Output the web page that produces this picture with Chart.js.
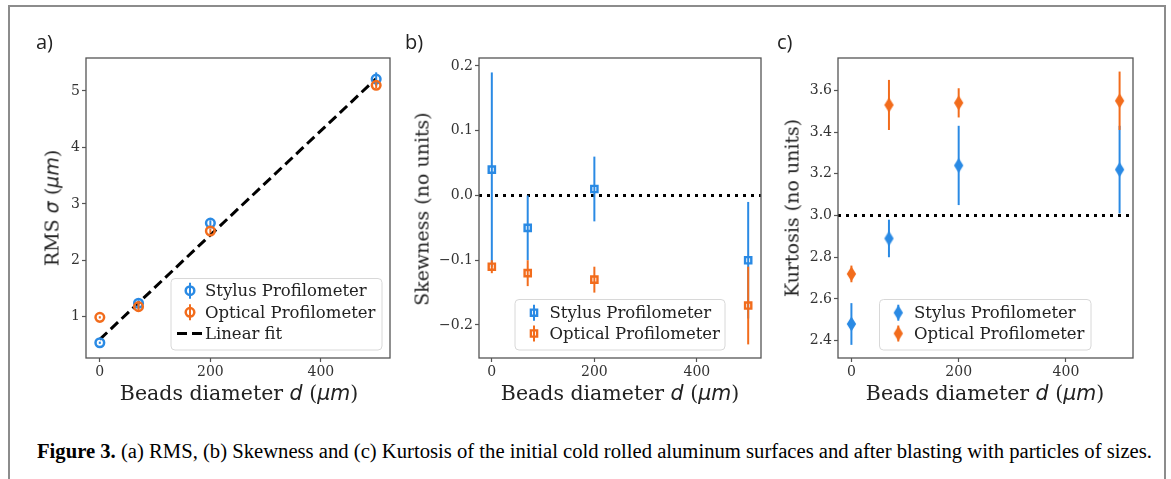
<!DOCTYPE html>
<html><head><meta charset="utf-8">
<script src="https://cdn.jsdelivr.net/npm/chart.js@4/dist/chart.umd.min.js"></script>
<style>
html,body{margin:0;padding:0;background:#fff;}
body{width:1171px;height:479px;overflow:hidden;position:relative;}
#frame{position:absolute;left:8px;top:5px;width:1158px;height:520px;border:2px solid #8c8c8c;box-sizing:border-box;}
canvas{position:absolute;top:0;}
.lab{position:absolute;font-family:'Open Sans',sans-serif;font-size:20px;color:#222;line-height:20px;}
.xt,.yt{position:absolute;font-family:'DejaVu Serif',serif;font-size:19px;color:#222;white-space:nowrap;line-height:1;}
.xt{font-size:20.5px;transform:translate(-50%,-50%);}
.yt{transform:translate(-50%,-50%) rotate(-90deg);}
.m{font-family:'DejaVu Sans',sans-serif;font-style:italic;}
#cap{position:absolute;left:37px;top:440px;font-family:'Liberation Serif',serif;font-size:20px;color:#000;white-space:nowrap;transform-origin:0 50%;line-height:22px;}
</style></head>
<body>
<div id="frame"></div>
<canvas id="ca" width="400" height="420" style="left:0px"></canvas>
<canvas id="cb" width="370" height="420" style="left:400px"></canvas>
<canvas id="cc" width="373" height="420" style="left:770px"></canvas>
<div class="lab" style="left:36px;top:32px">a)</div>
<div class="lab" style="left:405px;top:32px">b)</div>
<div class="lab" style="left:777px;top:32px">c)</div>
<div class="xt" style="left:239px;top:393px">Beads diameter <span class="m">d</span> (<span class="m">μm</span>)</div>
<div class="xt" style="left:620px;top:393px">Beads diameter <span class="m">d</span> (<span class="m">μm</span>)</div>
<div class="xt" style="left:985px;top:393px">Beads diameter <span class="m">d</span> (<span class="m">μm</span>)</div>
<div class="yt" style="left:52px;top:208px">RMS <span class="m">σ</span> (<span class="m">μm</span>)</div>
<div class="yt" style="left:422px;top:209px">Skewness (no units)</div>
<div class="yt" style="left:792px;top:208px">Kurtosis (no units)</div>
<div id="cap"><b>Figure 3.</b> (a) RMS, (b) Skewness and (c) Kurtosis of the initial cold rolled aluminum surfaces and after blasting with particles of sizes.</div>
<script>
// ---------------- data ----------------
const beadsDiameter = [0, 70, 200, 500];
const xTicks = [0, 200, 400];
const xTickLabels = ['0', '200', '400'];

const rmsStylus = [0.54, 1.24, 2.66, 5.21];
const rmsStylusErr = [0.02, 0.05, 0.05, 0.12];
const rmsOptical = [0.99, 1.18, 2.52, 5.10];
const rmsOpticalErr = [0.02, 0.06, 0.04, 0.05];
const fitX = [0, 500];
const fitY = [0.60, 5.22];
const rmsTicks = [1, 2, 3, 4, 5];
const rmsTickLabels = ['1', '2', '3', '4', '5'];

const skewStylus = [0.04, -0.05, 0.01, -0.10];
const skewStylusErr = [0.15, 0.05, 0.05, 0.09];
const skewOptical = [-0.11, -0.12, -0.13, -0.17];
const skewOpticalErr = [0.01, 0.02, 0.02, 0.06];
const skewRef = 0.0;
const skewTicks = [-0.2, -0.1, 0.0, 0.1, 0.2];
const skewTickLabels = ['\u22120.2', '\u22120.1', '0.0', '0.1', '0.2'];

const kurtStylus = [2.48, 2.89, 3.24, 3.22];
const kurtStylusErr = [0.10, 0.09, 0.19, 0.21];
const kurtOptical = [2.72, 3.53, 3.54, 3.55];
const kurtOpticalErr = [0.04, 0.12, 0.07, 0.14];
const kurtRef = 3.0;
const kurtTicks = [2.4, 2.6, 2.8, 3.0, 3.2, 3.4, 3.6];
const kurtTickLabels = ['2.4', '2.6', '2.8', '3.0', '3.2', '3.4', '3.6'];

const seriesNames = ['Stylus Profilometer', 'Optical Profilometer', 'Linear fit'];

// ---------------- style ----------------
const BLUE = '#2a8ae4';
const ORANGE = '#f26c1c';
const X_MIN = -25, X_MAX = 525;
const tickFont = {family: 'DejaVu Serif', size: 14};

function pts(xs, ys) { return xs.map((x, i) => ({x: x, y: ys[i]})); }

function thinDiamond(color) {
  const c = document.createElement('canvas');
  c.width = 11; c.height = 16;
  const g = c.getContext('2d');
  g.fillStyle = color;
  g.beginPath();
  g.moveTo(5.5, 0.5); g.lineTo(10.2, 8); g.lineTo(5.5, 15.5); g.lineTo(0.8, 8); g.closePath();
  g.fill();
  return c;
}

const errPlugin = {
  id: 'errbars',
  beforeDatasetDraw(chart, args) {
    const ds = chart.data.datasets[args.index];
    if (!ds.errors) return;
    const {ctx, chartArea} = chart;
    const x = chart.scales.x, y = chart.scales.y;
    ctx.save();
    ctx.beginPath();
    ctx.rect(chartArea.left, chartArea.top, chartArea.right - chartArea.left, chartArea.bottom - chartArea.top);
    ctx.clip();
    ctx.strokeStyle = ds.borderColor;
    ctx.lineWidth = 2;
    ds.data.forEach((p, i) => {
      const px = x.getPixelForValue(p.x);
      ctx.beginPath();
      ctx.moveTo(px, y.getPixelForValue(p.y - ds.errors[i]));
      ctx.lineTo(px, y.getPixelForValue(p.y + ds.errors[i]));
      ctx.stroke();
    });
    ctx.restore();
  },
  afterDraw(chart) {
    const {ctx, chartArea} = chart;
    ctx.save();
    ctx.strokeStyle = '#555';
    ctx.lineWidth = 1.3;
    ctx.strokeRect(chartArea.left, chartArea.top, chartArea.right - chartArea.left, chartArea.bottom - chartArea.top);
    const lg = chart.options.plugins.errLegend;
    if (lg) {
      const b = lg.box;
      ctx.beginPath();
      ctx.roundRect(b.x, b.y, b.w, b.h, 4);
      ctx.fillStyle = 'rgba(255,255,255,0.85)';
      ctx.fill();
      ctx.strokeStyle = '#d8d8d8';
      ctx.lineWidth = 1;
      ctx.stroke();
      lg.rows.forEach((r, k) => {
        const ds = chart.data.datasets[r.ds];
        const yy = lg.rowY[k];
        if (r.line) {
          ctx.save();
          ctx.strokeStyle = ds.borderColor;
          ctx.lineWidth = ds.borderWidth;
          ctx.setLineDash(ds.borderDash || []);
          ctx.beginPath();
          ctx.moveTo(lg.markerX - 13, yy); ctx.lineTo(lg.markerX + 14, yy);
          ctx.stroke();
          ctx.restore();
        } else {
          ctx.strokeStyle = ds.borderColor;
          ctx.lineWidth = 2;
          ctx.beginPath();
          ctx.moveTo(lg.markerX, yy - 8); ctx.lineTo(lg.markerX, yy + 8);
          ctx.stroke();
          ctx.fillStyle = ds.backgroundColor;
          ctx.strokeStyle = ds.borderColor;
          ctx.lineWidth = ds.borderWidth;
          Chart.helpers.drawPoint(ctx, {pointStyle: ds.pointStyle, radius: ds.pointRadius, rotation: 0, borderWidth: ds.borderWidth}, lg.markerX, yy);
        }
        ctx.fillStyle = '#222';
        ctx.font = '16.5px "DejaVu Serif"';
        ctx.textBaseline = 'middle';
        ctx.textAlign = 'left';
        ctx.fillText(seriesNames[r.name], lg.textX, yy + 1);
      });
    }
    ctx.restore();
  }
};

function scales(yMin, yMax, yTicks, yLabels, yWidth) {
  return {
    x: {
      type: 'linear', min: X_MIN, max: X_MAX,
      afterBuildTicks: s => { s.ticks = xTicks.map(v => ({value: v})); },
      afterFit: s => { s.height = 62; },
      ticks: {callback: (v, i) => xTickLabels[i], font: tickFont, color: '#333', padding: 2, maxRotation: 0, autoSkip: false},
      grid: {display: true, drawOnChartArea: false, drawTicks: true, tickLength: 4, tickWidth: 1.2, color: '#555'},
      border: {display: false}
    },
    y: {
      type: 'linear', min: yMin, max: yMax,
      afterBuildTicks: s => { s.ticks = yTicks.map(v => ({value: v})); },
      afterFit: s => { s.width = yWidth; },
      ticks: {callback: (v, i) => yLabels[i], font: tickFont, color: '#333', padding: 2, autoSkip: false},
      grid: {display: true, drawOnChartArea: false, drawTicks: true, tickLength: 4, tickWidth: 1.2, color: '#555'},
      border: {display: false}
    }
  };
}

function markerSet(label, xs, ys, errs, color, style, radius, bw, bg, order) {
  return {type: 'scatter', label: label, data: pts(xs, ys), errors: errs, borderColor: color,
    backgroundColor: bg, pointStyle: style, pointRadius: radius, pointHoverRadius: radius,
    borderWidth: bw, showLine: false, order: order};
}

function refSet(v) {
  return {type: 'line', data: [{x: X_MIN, y: v}, {x: X_MAX, y: v}], borderColor: '#000', borderWidth: 3,
    borderDash: [3, 5], pointRadius: 0, fill: false, order: 5};
}

const common = {
  responsive: false, animation: false, devicePixelRatio: 1, events: [],
  plugins: {legend: {display: false}, tooltip: {enabled: false}}
};

// ---- panel a ----
new Chart(document.getElementById('ca'), {
  type: 'scatter',
  data: {datasets: [
    markerSet(seriesNames[0], beadsDiameter, rmsStylus, rmsStylusErr, BLUE, 'circle', 4.3, 2.5, 'rgba(0,0,0,0)', 3),
    markerSet(seriesNames[1], beadsDiameter, rmsOptical, rmsOpticalErr, ORANGE, 'circle', 4.3, 2.5, 'rgba(0,0,0,0)', 2),
    {type: 'line', label: seriesNames[2], data: pts(fitX, fitY), borderColor: '#000', borderWidth: 3,
      borderDash: [10, 5], pointRadius: 0, fill: false, order: 4}
  ]},
  options: Object.assign({}, common, {
    layout: {padding: {top: 58, left: 0, right: 10, bottom: 0}},
    scales: scales(0.27, 5.584, rmsTicks, rmsTickLabels, 86),
    plugins: Object.assign({}, common.plugins, {errLegend: {
      box: {x: 171, y: 278.5, w: 211, h: 71.5}, markerX: 190, textX: 205,
      rowY: [290.7, 312.3, 333.5],
      rows: [{ds: 0, name: 0}, {ds: 1, name: 1}, {ds: 2, name: 2, line: true}]
    }})
  }),
  plugins: [errPlugin]
});

// ---- panel b ----
new Chart(document.getElementById('cb'), {
  type: 'scatter',
  data: {datasets: [
    refSet(skewRef),
    markerSet(seriesNames[0], beadsDiameter, skewStylus, skewStylusErr, BLUE, 'rect', 4.4, 2.4, 'rgba(0,0,0,0)', 3),
    markerSet(seriesNames[1], beadsDiameter, skewOptical, skewOpticalErr, ORANGE, 'rect', 4.4, 2.4, 'rgba(0,0,0,0)', 2)
  ]},
  options: Object.assign({}, common, {
    layout: {padding: {top: 58, left: 0, right: 9, bottom: 0}},
    scales: scales(-0.251, 0.2123, skewTicks, skewTickLabels, 79),
    plugins: Object.assign({}, common.plugins, {errLegend: {
      box: {x: 115, y: 299.5, w: 210, h: 50.5}, markerX: 134, textX: 149.5,
      rowY: [312.7, 333.5],
      rows: [{ds: 1, name: 0}, {ds: 2, name: 1}]
    }})
  }),
  plugins: [errPlugin]
});

// ---- panel c ----
new Chart(document.getElementById('cc'), {
  type: 'scatter',
  data: {datasets: [
    refSet(kurtRef),
    markerSet(seriesNames[0], beadsDiameter, kurtStylus, kurtStylusErr, BLUE, thinDiamond(BLUE), 6, 0, BLUE, 3),
    markerSet(seriesNames[1], beadsDiameter, kurtOptical, kurtOpticalErr, ORANGE, thinDiamond(ORANGE), 6, 0, ORANGE, 2)
  ]},
  options: Object.assign({}, common, {
    layout: {padding: {top: 58, left: 0, right: 10, bottom: 0}},
    scales: scales(2.317, 3.755, kurtTicks, kurtTickLabels, 68),
    plugins: Object.assign({}, common.plugins, {errLegend: {
      box: {x: 109.5, y: 299.5, w: 211.5, h: 50.5}, markerX: 128.3, textX: 144,
      rowY: [312.7, 333.5],
      rows: [{ds: 1, name: 0}, {ds: 2, name: 1}]
    }})
  }),
  plugins: [errPlugin]
});

// caption width fit
const cap = document.getElementById('cap');
const w = cap.getBoundingClientRect().width;
cap.style.transform = 'scaleX(' + (1115 / w) + ')';
</script>
</body></html>
